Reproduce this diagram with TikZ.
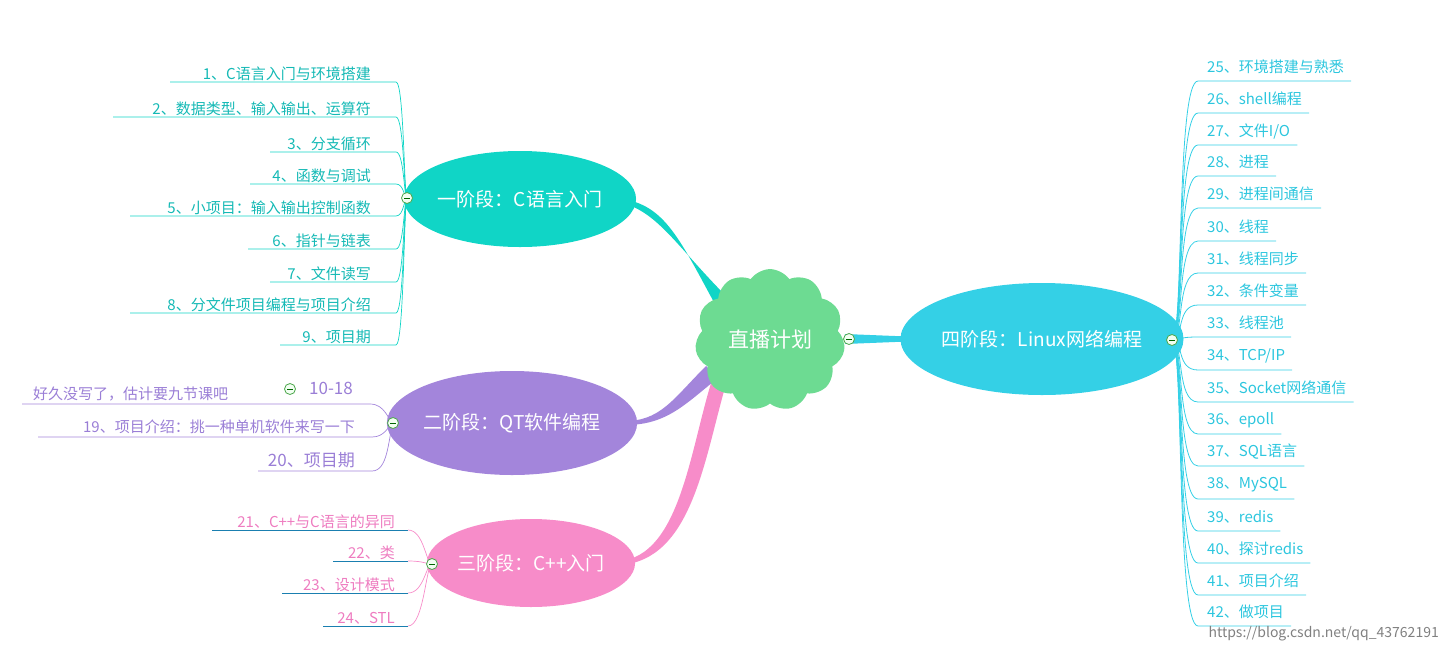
\documentclass[tikz,border=0pt]{standalone}
\usepackage{fontspec}
\setmainfont{Noto Sans CJK SC}
\newfontfamily\cjk{Noto Sans CJK SC}
\usetikzlibrary{shapes.symbols,shapes.geometric}
\definecolor{cA}{HTML}{10D5C6}\definecolor{tA}{HTML}{14B9B5}
\definecolor{cB}{HTML}{A385DB}\definecolor{tB}{HTML}{9A7ED6}
\definecolor{cC}{HTML}{F78CC9}\definecolor{tC}{HTML}{EE7CC0}
\definecolor{cD}{HTML}{34D0E6}\definecolor{tD}{HTML}{2CC6DE}
\definecolor{cG}{HTML}{6DDB92}\definecolor{uC}{HTML}{1A7FB0}
\begin{document}
\begin{tikzpicture}[x=1pt,y=-1pt,
  item/.style={inner sep=1pt,font=\fontsize{15}{18}\selectfont},
  main/.style={ellipse,text=white,font=\fontsize{19}{22}\selectfont,inner sep=0pt},
  tog/.style={circle,draw=green!50!black!70,fill=green!5,line width=0.8pt,minimum size=11pt,inner sep=0pt,
    path picture={\draw[green!40!black,line width=0.9pt] ([xshift=-3pt]path picture bounding box.center)--([xshift=3pt]path picture bounding box.center);}}]
\useasboundingbox (0,0) rectangle (1444,654);
% thick connectors
\fill[cA] (716,306) .. controls (680,240) and (665,205) .. (622,199) -- (622,203) .. controls (658,212) and (678,248) .. (728,298) -- cycle;
\fill[cB] (706,366) .. controls (672,400) and (660,422) .. (622,421) -- (622,425) .. controls (666,426) and (684,405) .. (718,378) -- cycle;
\fill[cC] (712,380) .. controls (690,450) and (680,555) .. (620,561) -- (620,565) .. controls (692,560) and (704,460) .. (726,384) -- cycle;
\fill[cD] (845,334) -- (920,337) -- (920,341) -- (845,344) -- cycle;
% main nodes
\node[cloud,cloud puffs=11,cloud puff arc=110,aspect=1,fill=cG,minimum width=150pt,minimum height=140pt,text=white,font=\fontsize{21}{24}\selectfont] (root) at (770,340) {直播计划};
\node[main,fill=cA,minimum width=210pt,minimum height=96pt] (s1) at (520,199) {一阶段：C语言入门};
\node[main,fill=cB,minimum width=224pt,minimum height=104pt] (s2) at (512,423) {二阶段：QT软件编程};
\node[main,fill=cC,minimum width=180pt,minimum height=88pt] (s3) at (531,563) {三阶段：C++入门};
\node[main,fill=cD,minimum width=246pt,minimum height=112pt] (s4) at (1042,339) {四阶段：Linux网络编程};
\node[tog] (g0) at (849,339) {};
\coordinate (t1) at (407,198);
\coordinate (t2) at (393,423);
\coordinate (t3) at (432,564);
\coordinate (t4) at (1172,340);
% branch 1
\foreach \i/\xs/\yu/\t in {a/170/82/{1、C语言入门与环境搭建},b/113/117/{2、数据类型、输入输出、运算符},c/270/152/{3、分支循环},d/250/184/{4、函数与调试},e/130/216/{5、小项目：输入输出控制函数},f/248/249/{6、指针与链表},g/270/282/{7、文件读写},h/130/313/{8、分文件项目编程与项目介绍},k/280/345/{9、项目期}}{
  \node[item,text=tA,anchor=south east] (a\i) at (372,\yu) {\t};
  \draw[cA,line width=0.7pt] (\xs,\yu) -- (396,\yu) .. controls (404,\yu) and (404,198) .. (t1);
}
% branch 2
\node[item,text=tB,anchor=south west] (b0) at (32,402) {好久没写了，估计要九节课吧};
\node[tog] (g5) at (290,389) {};
\node[item,text=tB,anchor=west,font=\fontsize{17}{20}\selectfont] (b0n) at (308,388) {10-18};
\draw[cB,line width=0.7pt] (22,404) -- (370,404) .. controls (385,404) and (388,420) .. (t2);
\node[item,text=tB,anchor=south east] (b1) at (356,435) {19、项目介绍：挑一种单机软件来写一下};
\draw[cB,line width=0.7pt] (38,437) -- (372,437) .. controls (385,437) and (388,426) .. (t2);
\node[item,text=tB,anchor=south east,font=\fontsize{17}{20}\selectfont] (b2) at (356,469) {20、项目期};
\draw[cB,line width=0.7pt] (258,471) -- (372,471) .. controls (388,471) and (388,440) .. (t2);
% branch 3
\foreach \i/\xs/\yu/\t in {a/212/530/{21、C++与C语言的异同},b/333/561/{22、类},c/282/593/{23、设计模式},d/323/626/{24、STL}}{
  \node[item,text=tC,anchor=south east] (c\i) at (396,\yu) {\t};
  \draw[uC,line width=0.7pt] (\xs,\yu) -- (408,\yu);
  \draw[cC,line width=0.7pt] (408,\yu) .. controls (424,\yu) and (426,564) .. (t3);
}
% branch 4
\foreach \i/\yt/\t in {a/67/{25、环境搭建与熟悉},b/99/{26、shell编程},c/131/{27、文件I/O},d/162/{28、进程},e/194/{29、进程间通信},f/227/{30、线程},g/259/{31、线程同步},h/291/{32、条件变量},k/323/{33、线程池},l/356/{34、TCP/IP},m/388/{35、Socket网络通信},n/420/{36、epoll},o/452/{37、SQL语言},p/485/{38、MySQL},q/517/{39、redis},r/549/{40、探讨redis},s/581/{41、项目介绍},t/612/{42、做项目}}{
  \node[item,text=tD,anchor=west,font=\fontsize{15}{18}\selectfont] (d\i) at (1206,\yt) {\t};
  \pgfmathsetmacro\yu{\yt+14}
  \draw[cD,line width=0.8pt] (t4) .. controls (1184,340) and (1176,\yu) .. (1198,\yu) -- ([xshift=6pt]d\i.east |- 0,\yu);
}
\node[tog] (g1) at (t1) {};
\node[tog] (g2) at (t2) {};
\node[tog] (g3) at (t3) {};
\node[tog] (g4) at (t4) {};
\node[text=gray,anchor=east,font=\fontsize{14}{16}\selectfont,inner sep=1pt] (wm) at (1440,634) {https://blog.csdn.net/qq\_43762191};
\end{tikzpicture}
\end{document}
